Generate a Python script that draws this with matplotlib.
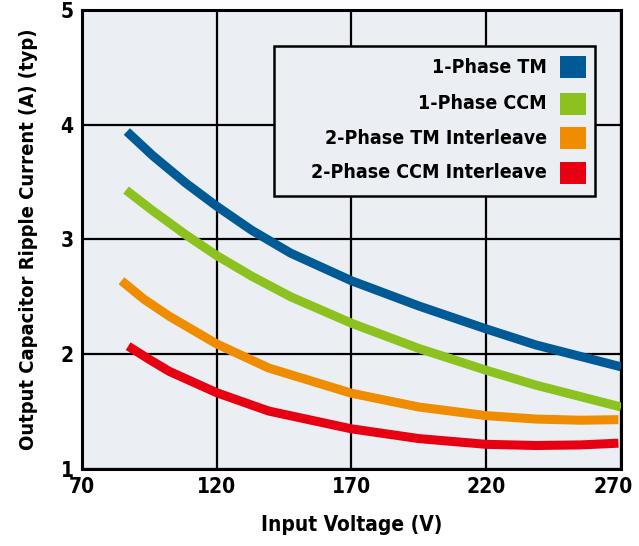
import matplotlib
matplotlib.use("Agg")
import matplotlib.pyplot as plt
import matplotlib.transforms as mtrans
from matplotlib.patches import Rectangle

plt.rcParams['font.family'] = ['DejaVu Sans']
plt.rcParams['font.stretch'] = 'condensed'
plt.rcParams['font.weight'] = 'bold'
plt.rcParams['axes.labelweight'] = 'bold'

# values
v_blue = [86.7, 96.3, 108.6, 120, 133, 147.5, 170, 195, 220, 238.5, 270]
i_blue = [3.94, 3.73, 3.49, 3.29, 3.08, 2.88, 2.64, 2.42, 2.22, 2.08, 1.89]

v_green = [86.4, 96.3, 108.6, 120, 133, 147.5, 170, 195, 220, 238.5, 270]
i_green = [3.43, 3.25, 3.04, 2.86, 2.68, 2.50, 2.27, 2.05, 1.86, 1.73, 1.54]

v_orange = [84.7, 93, 102.5, 120, 139.3, 170, 195, 220, 238.5, 255, 269]
i_orange = [2.64, 2.48, 2.33, 2.09, 1.88, 1.66, 1.54, 1.465, 1.435, 1.425, 1.43]

v_red = [87.2, 95, 102.5, 120, 139.3, 170, 195, 220, 238.5, 255, 269]
i_red = [2.07, 1.955, 1.85, 1.665, 1.505, 1.35, 1.265, 1.215, 1.205, 1.21, 1.225]

labels = ["1-Phase TM", "1-Phase CCM", "2-Phase TM Interleave", "2-Phase CCM Interleave"]
colors = ["#005a96", "#8cc21f", "#f08c00", "#e60012"]

x_ticks = [70, 120, 170, 220, 270]
y_ticks = [1, 2, 3, 4, 5]

fig = plt.figure(figsize=(6.39, 5.46), dpi=100)
ax = fig.add_axes([0.128, 0.141, 0.844, 0.841])
ax.set_facecolor("#ebeff3")

series = [(v_blue, i_blue), (v_green, i_green), (v_orange, i_orange), (v_red, i_red)]
for (v, i), c in zip(series, colors):
    ax.plot(v, i, color=c, lw=6.5, solid_capstyle='butt', solid_joinstyle='round', zorder=3)

ax.set_xlim(70, 270)
ax.set_ylim(1, 5)
ax.set_xticks(x_ticks)
ax.set_yticks(y_ticks)
ax.grid(True, color='black', lw=1.6, zorder=1)
ax.set_axisbelow(True)
for s in ax.spines.values():
    s.set_linewidth(2.2)
ax.tick_params(length=0, labelsize=15, pad=6)

# pull the last x label in a bit so it stays inside the figure
last = ax.get_xticklabels()[-1]
last.set_transform(last.get_transform() + mtrans.ScaledTranslation(-6 / 72, 0, fig.dpi_scale_trans))

ax.set_xlabel("Input Voltage (V)", fontsize=15, labelpad=13)
ax.set_ylabel("Output Capacitor Ripple Current (A) (typ)", fontsize=14.5, labelpad=16)

# legend box drawn by hand
box = Rectangle((0.357, 0.595), 0.594, 0.327, transform=ax.transAxes,
                facecolor="#ebeff3", edgecolor='black', lw=1.8, zorder=5)
ax.add_patch(box)
rows = [0.875, 0.795, 0.72, 0.645]
for lab, c, yy in zip(labels, colors, rows):
    ax.text(0.862, yy, lab, transform=ax.transAxes, ha='right', va='center',
            fontsize=14, zorder=6)
    ax.add_patch(Rectangle((0.887, yy - 0.024), 0.048, 0.048, transform=ax.transAxes,
                           facecolor=c, edgecolor='none', zorder=6))

fig.savefig("out.png", dpi=100)
